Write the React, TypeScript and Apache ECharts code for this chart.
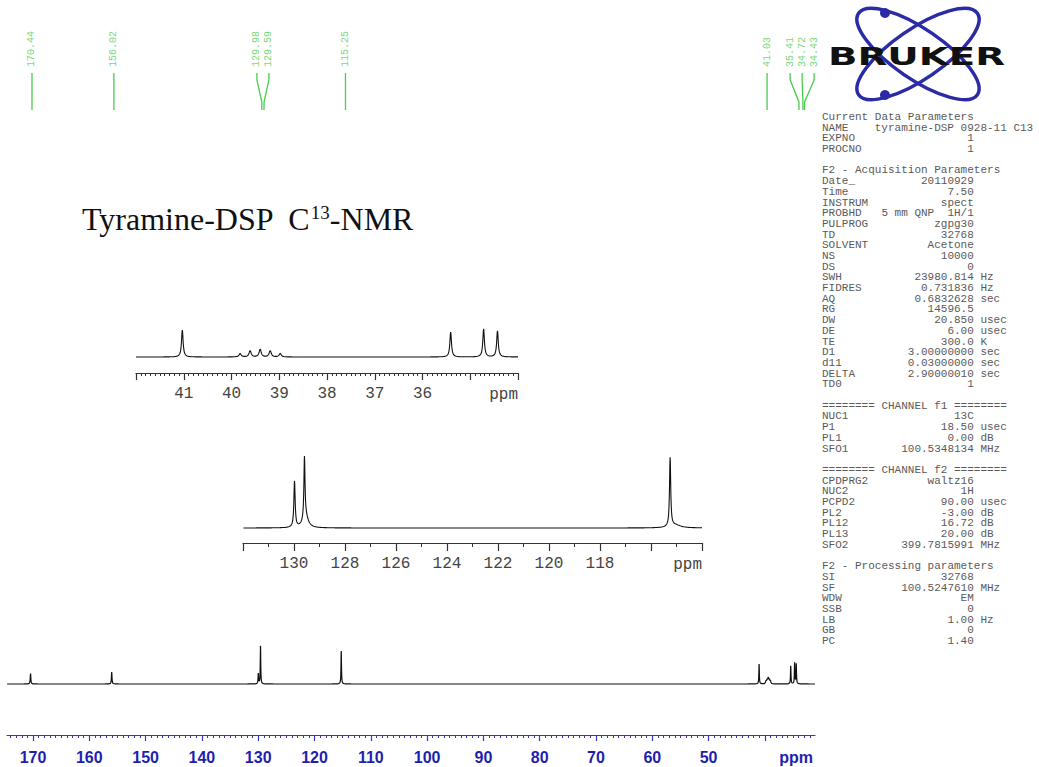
import React, { useEffect, useRef } from 'react';
import * as echarts from 'echarts';

type Peak = [number, number, number]; // ppm, relative intensity, half-width (ppm)

// Full spectrum peaks
const mainPeaks: Peak[] = [
  [170.44, 11, 0.06],
  [156.02, 12, 0.06],
  [129.98, 11, 0.05],
  [129.59, 38, 0.05],
  [115.25, 33, 0.05],
  [41.03, 20, 0.05],
  [39.83, 2.5, 0.08],
  [39.62, 4.5, 0.08],
  [39.41, 6, 0.08],
  [39.2, 4.5, 0.08],
  [39.0, 2.5, 0.08],
  [35.41, 18, 0.05],
  [34.72, 21, 0.05],
  [34.43, 20, 0.05],
];

// Aliphatic expansion (42 - 34 ppm)
const inset1Peaks: Peak[] = [
  [41.03, 27, 0.02],
  [39.82, 3.5, 0.025],
  [39.61, 6.5, 0.025],
  [39.4, 8, 0.025],
  [39.19, 6.5, 0.025],
  [38.98, 3.5, 0.025],
  [35.41, 25, 0.02],
  [34.72, 28, 0.02],
  [34.43, 26, 0.02],
];

// Aromatic expansion (132 - 114 ppm)
const inset2Peaks: Peak[] = [
  [129.98, 46, 0.03],
  [129.59, 61, 0.025],
  [129.55, 12, 0.12],
  [115.25, 69, 0.028],
  [115.05, 3, 0.25],
];

const peakLabelPpm = [170.44, 156.02, 129.98, 129.59, 115.25, 41.03, 35.41, 34.72, 34.43];

const mainRange = [31.1, 174.62];
const mainMajorTicks = [40, 50, 60, 70, 80, 90, 100, 110, 120, 130, 140, 150, 160, 170];
const mainTickLabels = [50, 60, 70, 80, 90, 100, 110, 120, 130, 140, 150, 160, 170];

const inset1Range = [34, 42];
const inset1MajorTicks = [34, 35, 36, 37, 38, 39, 40, 41, 42];
const inset1TickLabels = [36, 37, 38, 39, 40, 41];

const inset2Range = [114, 132];
const inset2MajorTicks = [114, 116, 118, 120, 122, 124, 126, 128, 130, 132];
const inset2TickLabels = [118, 120, 122, 124, 126, 128, 130];

const labelRange = [32.59, 174.84];

const paramLines: [string, string, string][] = [
  ['Current Data Parameters', '', ''],
  ['NAME', 'tyramine-DSP 0928-11 C13', ''],
  ['EXPNO', '1', ''],
  ['PROCNO', '1', ''],
  ['', '', ''],
  ['F2 - Acquisition Parameters', '', ''],
  ['Date_', '20110929', ''],
  ['Time', '7.50', ''],
  ['INSTRUM', 'spect', ''],
  ['PROBHD', '5 mm QNP  1H/1', ''],
  ['PULPROG', 'zgpg30', ''],
  ['TD', '32768', ''],
  ['SOLVENT', 'Acetone', ''],
  ['NS', '10000', ''],
  ['DS', '0', ''],
  ['SWH', '23980.814', 'Hz'],
  ['FIDRES', '0.731836', 'Hz'],
  ['AQ', '0.6832628', 'sec'],
  ['RG', '14596.5', ''],
  ['DW', '20.850', 'usec'],
  ['DE', '6.00', 'usec'],
  ['TE', '300.0', 'K'],
  ['D1', '3.00000000', 'sec'],
  ['d11', '0.03000000', 'sec'],
  ['DELTA', '2.90000010', 'sec'],
  ['TD0', '1', ''],
  ['', '', ''],
  ['======== CHANNEL f1 ========', '', ''],
  ['NUC1', '13C', ''],
  ['P1', '18.50', 'usec'],
  ['PL1', '0.00', 'dB'],
  ['SFO1', '100.5348134', 'MHz'],
  ['', '', ''],
  ['======== CHANNEL f2 ========', '', ''],
  ['CPDPRG2', 'waltz16', ''],
  ['NUC2', '1H', ''],
  ['PCPD2', '90.00', 'usec'],
  ['PL2', '-3.00', 'dB'],
  ['PL12', '16.72', 'dB'],
  ['PL13', '20.00', 'dB'],
  ['SFO2', '399.7815991', 'MHz'],
  ['', '', ''],
  ['F2 - Processing parameters', '', ''],
  ['SI', '32768', ''],
  ['SF', '100.5247610', 'MHz'],
  ['WDW', 'EM', ''],
  ['SSB', '0', ''],
  ['LB', '1.00', 'Hz'],
  ['GB', '0', ''],
  ['PC', '1.40', ''],
];

// ---------- helpers ----------
function buildTrace(peaks: Peak[], lo: number, hi: number, step: number): number[][] {
  const xs: number[] = [];
  for (let x = lo; x <= hi + 1e-9; x += step) xs.push(x);
  peaks.forEach(([p, , w]) => {
    for (let k = -24; k <= 24; k++) xs.push(p + k * w * 0.25);
  });
  const pts = xs.filter((x) => x >= lo && x <= hi).sort((a, b) => a - b);
  return pts.map((x) => [
    x,
    peaks.reduce((s, [p, h, w]) => s + h / (1 + ((x - p) / w) * ((x - p) / w)), 0),
  ]);
}

function stepValues(lo: number, hi: number, step: number, skip: number[]): number[] {
  const out: number[] = [];
  const n = Math.round((hi - lo) / step);
  for (let i = 0; i <= n; i++) {
    const v = Math.round((lo + i * step) * 1000) / 1000;
    if (!skip.some((s) => Math.abs(s - v) < 1e-6)) out.push(v);
  }
  return out;
}

function spreadLabels(vals: number[], gap: number): number[] {
  const clusters: number[][] = [];
  vals.forEach((v, i) => {
    const last = clusters[clusters.length - 1];
    if (last && vals[last[last.length - 1]] - v < gap) last.push(i);
    else clusters.push([i]);
  });
  const out: number[] = new Array(vals.length);
  clusters.forEach((c) => {
    const mean = c.reduce((s, i) => s + vals[i], 0) / c.length;
    c.forEach((idx, k) => {
      out[idx] = mean + ((c.length - 1) / 2 - k) * gap;
    });
  });
  return out;
}

const MONO = '"Liberation Mono", "DejaVu Sans Mono", monospace';

export default function App() {
  const ref = useRef<HTMLDivElement>(null);

  useEffect(() => {
    document.body.style.margin = '0';
    document.body.style.overflow = 'hidden';
    if (!ref.current) return;
    const chart = echarts.init(ref.current, undefined, { renderer: 'svg' });

    const labelDisplay = spreadLabels(peakLabelPpm, 2.11);

    const grids = [
      { left: 7, top: 0, width: 808, height: 110 }, // peak label strip
      { left: 136, top: 325, width: 382, height: 48 }, // aliphatic inset
      { left: 243, top: 452, width: 459, height: 91 }, // aromatic inset
      { left: 7, top: 640, width: 808, height: 95 }, // full spectrum
    ];

    const blackLabel = { color: '#444', fontSize: 16, fontFamily: MONO };
    const blueLabel = {
      color: '#1f1fae',
      fontSize: 16,
      fontWeight: 'bold',
      fontFamily: '"Liberation Sans", Arial, sans-serif',
    };

    const majorAxis = (
      gridIndex: number,
      range: number[],
      ticks: number[],
      labels: number[],
      color: string,
      labelStyle: any,
      tickLen: number,
      margin: number
    ) => ({
      type: 'value',
      gridIndex,
      min: range[0],
      max: range[1],
      inverse: true,
      position: 'bottom',
      axisLine: { show: true, onZero: false, lineStyle: { color, width: 1.2 } },
      axisTick: { show: true, customValues: ticks, length: tickLen, lineStyle: { color, width: 1.2 } },
      axisLabel: { show: true, customValues: labels, margin, ...labelStyle },
      splitLine: { show: false },
    });
    const minorAxis = (gridIndex: number, range: number[], ticks: number[], color: string, len: number) => ({
      type: 'value',
      gridIndex,
      min: range[0],
      max: range[1],
      inverse: true,
      position: 'bottom',
      axisLine: { show: false, onZero: false },
      axisTick: { show: true, customValues: ticks, length: len, lineStyle: { color, width: 1 } },
      axisLabel: { show: false },
      splitLine: { show: false },
    });

    const xAxis = [
      {
        type: 'value',
        gridIndex: 0,
        min: labelRange[0],
        max: labelRange[1],
        inverse: true,
        show: false,
      },
      majorAxis(1, inset1Range, inset1MajorTicks, inset1TickLabels, '#333', blackLabel, 7, 13),
      minorAxis(1, inset1Range, stepValues(34, 42, 0.1, inset1MajorTicks), '#333', 3),
      majorAxis(2, inset2Range, inset2MajorTicks, inset2TickLabels, '#333', blackLabel, 8, 13),
      minorAxis(2, inset2Range, stepValues(115, 131, 2, []), '#333', 4),
      majorAxis(3, mainRange, mainMajorTicks, mainTickLabels, '#3636c4', blueLabel, 6, 14),
      minorAxis(3, mainRange, stepValues(32, 174, 1, mainMajorTicks), '#3636c4', 3),
    ];

    const yAxis = [
      { type: 'value', gridIndex: 0, min: 0, max: 1, show: false },
      { type: 'value', gridIndex: 1, min: -16, max: 32, show: false },
      { type: 'value', gridIndex: 2, min: -15, max: 76, show: false },
      { type: 'value', gridIndex: 3, min: -51, max: 44, show: false },
    ];

    const lineSeries = (xi: number, yi: number, data: number[][], width: number) => ({
      type: 'line',
      xAxisIndex: xi,
      yAxisIndex: yi,
      data,
      showSymbol: false,
      symbol: 'none',
      silent: true,
      lineStyle: { color: '#111', width },
    });

    const series: any[] = [
      lineSeries(1, 1, buildTrace(inset1Peaks, inset1Range[0], inset1Range[1], 0.01), 1.1),
      lineSeries(3, 2, buildTrace(inset2Peaks, inset2Range[0], inset2Range[1], 0.02), 1.1),
      lineSeries(5, 3, buildTrace(mainPeaks, mainRange[0], mainRange[1], 0.1), 1.2),
      {
        type: 'custom',
        coordinateSystem: 'cartesian2d',
        xAxisIndex: 0,
        yAxisIndex: 0,
        silent: true,
        data: peakLabelPpm.map((v, i) => [v, labelDisplay[i], 0]),
        encode: { x: [0, 1], y: 2 },
        renderItem: (params: any, api: any) => {
          const x1 = api.coord([api.value(0), 0])[0];
          const x0 = api.coord([api.value(1), 0])[0];
          const top = params.coordSys.y;
          const label = peakLabelPpm[params.dataIndex].toFixed(2);
          return {
            type: 'group',
            children: [
              {
                type: 'text',
                x: x0,
                y: top + 67,
                rotation: Math.PI / 2,
                style: {
                  text: label,
                  fill: '#7ad87a',
                  font: '10px ' + MONO,
                  align: 'left',
                  verticalAlign: 'middle',
                },
              },
              {
                type: 'polyline',
                shape: {
                  points: [
                    [x0, top + 73],
                    [x0, top + 80],
                    [x1, top + 102],
                    [x1, top + 110],
                  ],
                },
                style: { stroke: '#4ccc4c', lineWidth: 1.3, fill: null },
              },
            ],
          };
        },
      },
    ];

    const graphic: any[] = [];
    // Title
    graphic.push({
      type: 'text',
      x: 82,
      y: 219,
      style: {
        text: '{a|Tyramine-DSP  C}{s|13}{a|-NMR}',
        align: 'left',
        verticalAlign: 'middle',
        rich: {
          a: { font: '32px "Liberation Serif", "DejaVu Serif", serif', fill: '#111' },
          s: { font: '19px "Liberation Serif", "DejaVu Serif", serif', fill: '#111', verticalAlign: 'top' },
        },
      },
    });
    // Bruker logo
    const logoBlue = '#2b2ba6';
    graphic.push(
      {
        type: 'ellipse',
        x: 918,
        y: 54,
        rotation: -0.6,
        shape: { cx: 0, cy: 0, rx: 72, ry: 25 },
        style: { fill: 'none', stroke: logoBlue, lineWidth: 3.5 },
      },
      {
        type: 'ellipse',
        x: 918,
        y: 54,
        rotation: 0.6,
        shape: { cx: 0, cy: 0, rx: 72, ry: 25 },
        style: { fill: 'none', stroke: logoBlue, lineWidth: 3.5 },
      },
      { type: 'circle', shape: { cx: 885, cy: 13, r: 5 }, style: { fill: logoBlue } },
      { type: 'circle', shape: { cx: 885, cy: 95, r: 5 }, style: { fill: logoBlue } },
      {
        type: 'text',
        x: 828,
        y: 57,
        scaleX: 1.55,
        style: {
          text: 'BRUKER',
          font: 'bold 25px "DejaVu Sans", sans-serif',
          fill: '#111',
          align: 'left',
          verticalAlign: 'middle',
        },
      }
    );
    // Parameters block
    const PX = 822;
    const CW = 6.6;
    paramLines.forEach(([name, value, unit], i) => {
      const y = 117 + i * 10.694;
      const base = { font: '11px ' + MONO, fill: '#5a5a5a', verticalAlign: 'middle' };
      if (name) graphic.push({ type: 'text', x: PX, y, style: { ...base, text: name, align: 'left' } });
      if (value) {
        const endCol = Math.max(23, 8 + value.length);
        graphic.push({ type: 'text', x: PX + endCol * CW, y, style: { ...base, text: value, align: 'right' } });
      }
      if (unit) graphic.push({ type: 'text', x: PX + 24 * CW, y, style: { ...base, text: unit, align: 'left' } });
    });
    // axis unit labels
    graphic.push(
      {
        type: 'text',
        x: 518,
        y: 395,
        style: { text: 'ppm', font: '16px ' + MONO, fill: '#444', align: 'right', verticalAlign: 'middle' },
      },
      {
        type: 'text',
        x: 702,
        y: 565,
        style: { text: 'ppm', font: '16px ' + MONO, fill: '#444', align: 'right', verticalAlign: 'middle' },
      },
      {
        type: 'text',
        x: 813,
        y: 757,
        style: {
          text: 'ppm',
          font: 'bold 16px "Liberation Sans", Arial, sans-serif',
          fill: '#1f1fae',
          align: 'right',
          verticalAlign: 'middle',
        },
      }
    );

    chart.setOption({
      animation: false,
      backgroundColor: '#ffffff',
      grid: grids,
      xAxis,
      yAxis,
      series,
      graphic,
    });

    return () => chart.dispose();
  }, []);

  return <div ref={ref} style={{ width: 1039, height: 767 }} />;
}
